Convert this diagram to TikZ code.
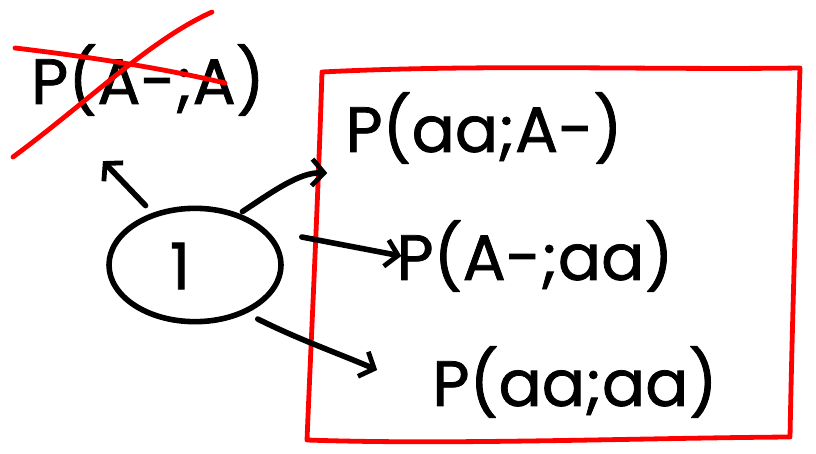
\documentclass[tikz,border=0pt]{standalone}
\usepackage{fontspec}
\newfontfamily\handfont{Poppins}[FakeBold=1.2]
\usetikzlibrary{arrows.meta,shapes.geometric,calc}
\begin{document}
\begin{tikzpicture}[x=0.75pt,y=-0.75pt,
  ink/.style={line width=4.2pt,line cap=round,line join=round,black},
  redink/.style={line width=3.6pt,line cap=round,line join=round,red},
  hand/.style={font=\handfont\fontsize{48}{52}\selectfont,inner sep=0pt},
  tip/.style={-{Straight Barb[length=9pt,width=20pt,line width=3.6pt]}}]
\useasboundingbox (0,0) rectangle (816,453);
% crossed out term
\node[hand] (t0) at (148,80) {P(A-;A)};
\draw[redink] (15,48) .. controls (100,58) and (170,70) .. (225,83);
\draw[redink] (13,157) .. controls (90,100) and (150,40) .. (212,12);
% circle with 1
\node[ink,draw,ellipse,minimum width=129pt,minimum height=85pt] (c) at (195,265) {};
\node[hand] (one) at (180,266) {1};
% options box
\draw[redink] (322,72) .. controls (480,64) and (650,70) .. (800,68)
  .. controls (796,200) and (792,330) .. (790,437)
  .. controls (640,438) and (450,445) .. (307,440)
  .. controls (312,320) and (318,200) .. (322,72) -- cycle;
\node[hand] (t1) at (484,128) {P(aa;A-)};
\node[hand] (t2) at (535,256) {P(A-;aa)};
\node[hand] (t3) at (575,382) {P(aa;aa)};
% arrows
\draw[ink,tip] ($(c.135)+(0,-10)$) -- ($(t0.south west)+(72,45)$);
\draw[ink,tip] ($(c.45)+(-2,-4)$) .. controls (275,190) and (300,172) .. ($(t1.west)+(-18,45)$);
\draw[ink,tip] ($(c.east)+(18,-28)$) -- ($(t2.west)+(5,0)$);
\draw[ink,tip] ($(c.south east)+(0,12)$) .. controls (300,340) and (330,350) .. ($(t3.west)+(-55,-12)$);
\end{tikzpicture}
\end{document}
